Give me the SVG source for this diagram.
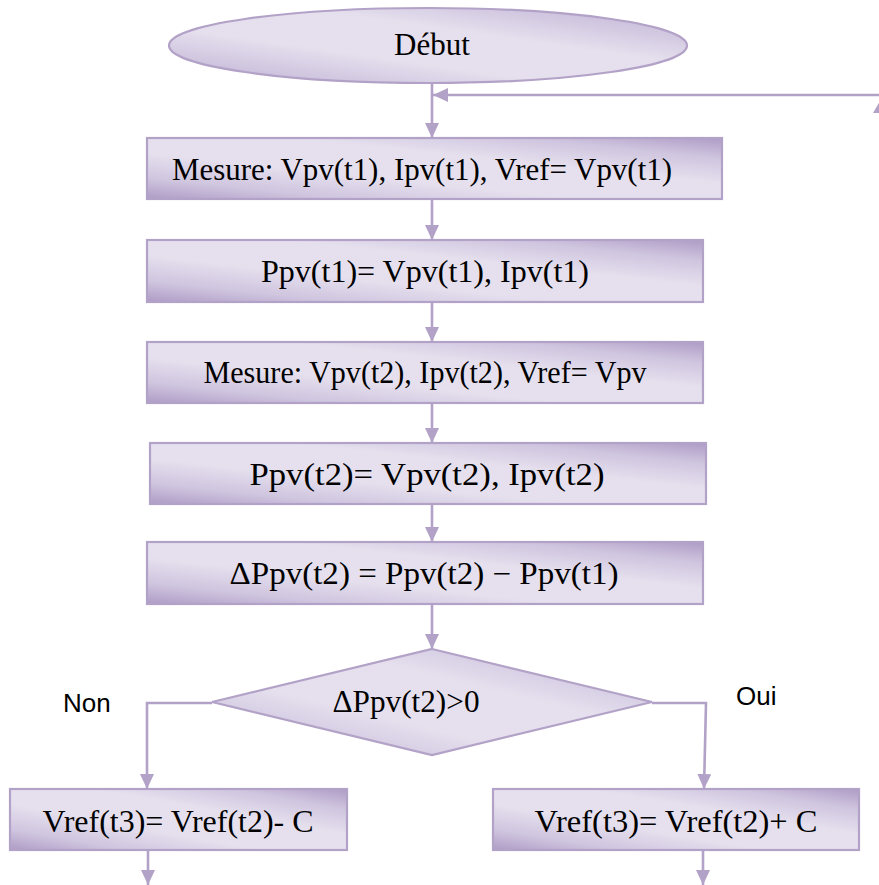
<svg xmlns="http://www.w3.org/2000/svg" width="879" height="885" viewBox="0 0 879 885">
<style>
.shape{stroke:#b3a2c7;stroke-width:2.2;fill:url(#g)}
.con{stroke:#b3a2c7;stroke-width:2.6;fill:none}
.ser{font-family:"Liberation Serif","Times New Roman",serif;font-size:31px;fill:#000;text-anchor:middle}
.sans{font-family:"Liberation Sans",Arial,sans-serif;font-size:26px;fill:#000}
</style>
<defs>
<linearGradient id="g" x1="0" y1="1" x2="1" y2="0">
<stop offset="0" stop-color="#ae9bc5"/>
<stop offset="0.17" stop-color="#cfc5df"/>
<stop offset="0.38" stop-color="#e6e0ee"/>
<stop offset="0.62" stop-color="#e6e0ee"/>
<stop offset="0.83" stop-color="#cfc5df"/>
<stop offset="1" stop-color="#ae9bc5"/>
</linearGradient>
<marker id="ah" markerUnits="userSpaceOnUse" markerWidth="15" markerHeight="14" viewBox="0 0 15 14" refX="15" refY="7" orient="auto">
<path d="M0,0 L15,7 L0,14 z" fill="#b3a2c7"/>
</marker>
</defs>

<g id="connectors">
<path class="con" d="M432,83 V138" marker-end="url(#ah)"/>
<path class="con" d="M879,95 H433" marker-end="url(#ah)"/>
<path d="M880,101 L873,113 L887,113 z" fill="#b3a2c7"/>
<path class="con" d="M432,199 V240" marker-end="url(#ah)"/>
<path class="con" d="M432,302 V342" marker-end="url(#ah)"/>
<path class="con" d="M432,403 V443" marker-end="url(#ah)"/>
<path class="con" d="M432,504 V542" marker-end="url(#ah)"/>
<path class="con" d="M432,604 V649" marker-end="url(#ah)"/>
<path class="con" d="M212,703 H147 V789" marker-end="url(#ah)"/>
<path class="con" d="M652,703 H706 L704,789" marker-end="url(#ah)"/>
<path class="con" d="M148,850 V885" marker-end="url(#ah)"/>
<path class="con" d="M703,850 V885" marker-end="url(#ah)"/>
</g>

<g id="debut">
<ellipse class="shape" cx="428" cy="45.5" rx="259" ry="37.5"/>
<text class="ser" x="432" y="55" font-size="28">Début</text>
</g>

<g id="mesure1">
<rect class="shape" x="147" y="138" width="575" height="61"/>
<text class="ser" x="422" y="180" textLength="500" lengthAdjust="spacingAndGlyphs">Mesure: Vpv(t1), Ipv(t1), Vref= Vpv(t1)</text>
</g>

<g id="ppv1">
<rect class="shape" x="147" y="240" width="556" height="62"/>
<text class="ser" x="425" y="282" textLength="328" lengthAdjust="spacingAndGlyphs">Ppv(t1)= Vpv(t1), Ipv(t1)</text>
</g>

<g id="mesure2">
<rect class="shape" x="147" y="342" width="556" height="61"/>
<text class="ser" x="425" y="383" font-size="30" textLength="443" lengthAdjust="spacingAndGlyphs">Mesure: Vpv(t2), Ipv(t2), Vref= Vpv</text>
</g>

<g id="ppv2">
<rect class="shape" x="150" y="443" width="556" height="61"/>
<text class="ser" x="427" y="485" font-size="32" textLength="355" lengthAdjust="spacingAndGlyphs">Ppv(t2)= Vpv(t2), Ipv(t2)</text>
</g>

<g id="deltappv">
<rect class="shape" x="147" y="542" width="556" height="62"/>
<text class="ser" x="424" y="584" textLength="389" lengthAdjust="spacingAndGlyphs">ΔPpv(t2) = Ppv(t2) − Ppv(t1)</text>
</g>

<g id="decision">
<polygon class="shape" points="432,649 652,702 432,755 212,702"/>
<text class="ser" x="406" y="712" font-size="30" textLength="147" lengthAdjust="spacingAndGlyphs">ΔPpv(t2)&gt;0</text>
</g>

<g id="labels">
<text class="sans" x="63" y="712">Non</text>
<text class="sans" x="736" y="705">Oui</text>
</g>

<g id="vref-minus">
<rect class="shape" x="10" y="789" width="337" height="61"/>
<text class="ser" x="178" y="832" font-size="32" textLength="271" lengthAdjust="spacingAndGlyphs">Vref(t3)= Vref(t2)- C</text>
</g>

<g id="vref-plus">
<rect class="shape" x="493" y="789" width="366" height="61"/>
<text class="ser" x="676" y="832" font-size="32" textLength="283" lengthAdjust="spacingAndGlyphs">Vref(t3)= Vref(t2)+ C</text>
</g>
</svg>
